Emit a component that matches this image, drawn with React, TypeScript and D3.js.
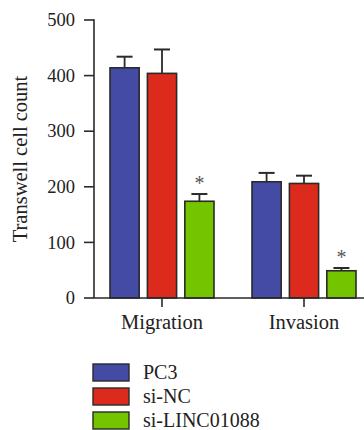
import React from "react";
import * as d3 from "d3";

const categories = ["Migration", "Invasion"];
const seriesNames = ["PC3", "si-NC", "si-LINC01088"];
const pc3Values = [414, 209];
const pc3Errors = [20, 16];
const siNCValues = [404, 206];
const siNCErrors = [43, 14];
const siLINCValues = [174, 49];
const siLINCErrors = [13, 5];
const yTicks = [0, 100, 200, 300, 400, 500];
const significant = [false, false, true];

const seriesColors = ["#434ba4", "#dc2b1c", "#74c400"];
const seriesValues = [pc3Values, siNCValues, siLINCValues];
const seriesErrors = [pc3Errors, siNCErrors, siLINCErrors];

const W = 364;
const H = 430;
const axisX = 94;
const axisTop = 20;
const axisBottom = 298;
const FONT = "'Liberation Serif', 'Times New Roman', serif";
const INK = "#2a2a2a";

export default function App() {
  const y = d3.scaleLinear().domain([0, 500]).range([axisBottom, axisTop]);
  const xGroup = d3.scaleBand<string>().domain(categories).range([91, 375]).padding(0);
  const groupHalf = 52;
  const xInner = d3
    .scaleBand<string>()
    .domain(seriesNames)
    .range([-groupHalf, groupHalf])
    .paddingInner(0.22)
    .paddingOuter(0);

  const bars: React.ReactNode[] = [];
  categories.forEach((cat, ci) => {
    const center = (xGroup(cat) as number) + xGroup.bandwidth() / 2;
    seriesNames.forEach((s, si) => {
      const v = seriesValues[si][ci];
      const e = seriesErrors[si][ci];
      const x0 = center + (xInner(s) as number);
      const bw = xInner.bandwidth();
      const cx = x0 + bw / 2;
      bars.push(
        <g key={cat + s}>
          <line x1={cx} x2={cx} y1={y(v)} y2={y(v + e)} stroke={INK} strokeWidth={1.8} />
          <line x1={cx - 8} x2={cx + 8} y1={y(v + e)} y2={y(v + e)} stroke={INK} strokeWidth={2} />
          <rect
            x={x0}
            y={y(v)}
            width={bw}
            height={y(0) - y(v)}
            fill={seriesColors[si]}
            stroke={INK}
            strokeWidth={1.6}
          />
          {significant[si] && (
            <text
              x={cx}
              y={y(v + e) - 4}
              textAnchor="middle"
              fontFamily={FONT}
              fontSize={20}
              fill="#555"
            >
              *
            </text>
          )}
        </g>
      );
    });
  });

  return (
    <svg
      width={W}
      height={H}
      style={{ position: "absolute", left: 0, top: 0, background: "#fff" }}
    >
      <rect x={0} y={0} width={W} height={H} fill="#fff" />
      {bars}
      {/* y axis */}
      <line x1={axisX} x2={axisX} y1={axisTop - 0.8} y2={axisBottom} stroke={INK} strokeWidth={1.6} />
      {yTicks.map((t) => (
        <g key={t}>
          <line x1={axisX - 10} x2={axisX} y1={y(t)} y2={y(t)} stroke={INK} strokeWidth={1.6} />
          <text
            x={axisX - 19}
            y={y(t)}
            dy="0.34em"
            textAnchor="end"
            fontFamily={FONT}
            fontSize={18.5}
            fill="#222"
          >
            {t}
          </text>
        </g>
      ))}
      {/* x axis */}
      <line x1={axisX} x2={W} y1={axisBottom} y2={axisBottom} stroke={INK} strokeWidth={1.6} />
      {categories.map((c) => {
        const cx = (xGroup(c) as number) + xGroup.bandwidth() / 2;
        return (
          <g key={c}>
            <line x1={cx} x2={cx} y1={axisBottom} y2={axisBottom + 9} stroke={INK} strokeWidth={1.6} />
            <text
              x={cx}
              y={329}
              textAnchor="middle"
              fontFamily={FONT}
              fontSize={20.5}
              fill="#222"
            >
              {c}
            </text>
          </g>
        );
      })}
      <text
        transform={`translate(27,${(axisTop + axisBottom) / 2}) rotate(-90)`}
        textAnchor="middle"
        fontFamily={FONT}
        fontSize={20.5}
        fill="#222"
      >
        Transwell cell count
      </text>
      {/* legend */}
      {seriesNames.map((s, i) => (
        <g key={s} transform={`translate(93,${364 + i * 24})`}>
          <rect x={0} y={0} width={36} height={17} fill={seriesColors[i]} stroke={INK} strokeWidth={1.4} />
          <text x={50} y={15} fontFamily={FONT} fontSize={20} fill="#222">
            {s}
          </text>
        </g>
      ))}
    </svg>
  );
}
